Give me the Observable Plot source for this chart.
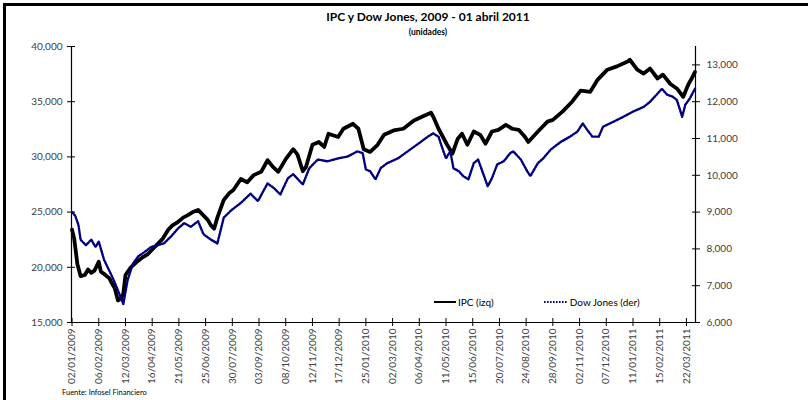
<!DOCTYPE html>
<html><head><meta charset="utf-8">
<script src="https://cdn.jsdelivr.net/npm/d3@7"></script>
<script src="https://cdn.jsdelivr.net/npm/@observablehq/plot@0.6"></script>
<style>
body{margin:0;background:#fff;}
#wrap{position:relative;width:808px;height:400px;overflow:hidden;font-family:Lato,"Open Sans",sans-serif;background:#fff;}
#frame{position:absolute;left:3px;top:3px;right:0;bottom:-10px;border-left:3px solid #000;border-top:3px solid #000;}
#title{position:absolute;top:10px;left:0;width:856px;text-align:center;font-weight:bold;font-size:12px;line-height:14px;color:#000;}
#sub{position:absolute;top:27px;left:0;width:856px;text-align:center;font-weight:bold;font-size:8.5px;line-height:10px;color:#000;}
#chart{position:absolute;left:0;top:0;}
#legend{position:absolute;top:296px;left:434px;font-size:10px;color:#000;display:flex;align-items:center;}
#legend .it{display:flex;align-items:center;margin-right:50px;}
#legend svg{margin-right:2px;}
#caption{position:absolute;top:388px;left:62px;font-size:7.5px;line-height:9px;color:#000;}
</style></head>
<body>
<div id="wrap">
  <div id="frame"></div>
  <div id="chart"></div>
  <div id="title">IPC y Dow Jones, 2009 - 01 abril 2011</div>
  <div id="sub">(unidades)</div>
  <div id="legend">
    <div class="it"><svg width="22" height="6"><line x1="0" x2="22" y1="3" y2="3" stroke="#000" stroke-width="2"/></svg><span>IPC (izq)</span></div>
    <div class="it"><svg width="24" height="6"><line x1="0" x2="24" y1="3" y2="3" stroke="#000080" stroke-width="2" stroke-dasharray="1.6 1.4"/></svg><span>Dow Jones (der)</span></div>
  </div>
  <div id="caption">Fuente: Infosel Financiero</div>
</div>
<script>
// Trading-day index of each sampled point (0 = 02/01/2009, 583 = 01/04/2011)
const ipcIdx = [0,2,5,8,12,15,18,21,25,27,30,35,37,40,43,46,48,50,55,62,66,71,76,80,85,90,94,99,104,108,113,118,122,127,130,133,136,142,147,151,158,164,170,177,183,188,193,200,207,211,216,219,225,231,236,240,249,254,263,268,273,279,286,292,301,310,320,329,336,338,343,348,351,356,361,365,370,376,382,387,393,399,406,412,418,424,427,436,445,450,459,468,476,485,492,501,510,520,522,529,535,541,548,553,560,566,572,577,580,583];
const ipcVal = [23400,22600,20300,19200,19300,19800,19500,19700,20500,19600,19400,19000,18600,18100,17000,17200,17600,19300,20000,20600,20900,21200,21700,22100,22600,23400,23800,24100,24500,24700,25000,25200,24800,24300,23800,23500,24500,26100,26700,27000,28000,27700,28350,28650,29700,29100,28650,29800,30700,30200,28700,29100,31100,31350,30900,32100,31800,32550,33000,32550,30700,30450,31100,32000,32400,32550,33300,33700,34000,33650,32550,31650,31100,30300,31650,32100,31100,32300,32000,31200,32300,32450,32900,32550,32450,31800,31350,32300,33200,33350,34100,35000,36000,35900,37000,37900,38200,38650,38800,37900,37550,38000,37100,37450,36600,36200,35450,36600,37100,37700];
const djIdx = [0,3,6,8,13,18,22,25,30,35,39,44,48,52,57,62,67,74,80,86,93,99,105,111,118,123,130,136,142,149,158,167,174,183,189,195,202,207,216,222,230,239,249,258,267,272,275,279,284,289,295,305,314,326,333,338,343,347,350,354,357,362,366,371,376,380,384,389,393,398,404,410,413,420,426,429,436,441,448,457,466,473,478,482,487,493,497,507,516,525,535,541,548,552,557,562,566,569,571,574,578,583];
const djVal = [9000,8900,8650,8250,8100,8250,8050,8200,7700,7400,7150,6800,6500,7150,7600,7800,7900,8050,8100,8150,8350,8550,8700,8600,8750,8400,8250,8150,8850,9050,9250,9500,9300,9780,9650,9480,9920,10030,9750,10190,10430,10380,10460,10510,10650,10600,10160,10110,9890,10200,10330,10460,10650,10900,11050,11140,11050,10700,10460,10650,10190,10110,9980,9890,10330,10430,10110,9700,9920,10300,10380,10600,10650,10430,10110,9980,10330,10460,10700,10900,11050,11190,11410,11240,11050,11050,11320,11460,11590,11730,11860,12000,12220,12350,12190,12140,12050,11780,11590,11920,12080,12350];

const xTickIdx = [0,25,50,75,100,125,150,175,200,225,250,275,300,325,350,375,400,425,450,475,500,525,550,575];
const xTickLabels = ["02/01/2009","06/02/2009","12/03/2009","16/04/2009","21/05/2009","25/06/2009","30/07/2009","03/09/2009","08/10/2009","12/11/2009","17/12/2009","25/01/2010","02/03/2010","06/04/2010","11/05/2010","15/06/2010","20/07/2010","24/08/2010","28/09/2010","02/11/2010","07/12/2010","11/01/2011","15/02/2011","22/03/2011"];
const leftTicks = [15000,20000,25000,30000,35000,40000];
const rightTicks = [6000,7000,8000,9000,10000,11000,12000,13000];
const leftDomain = [15000, 40000];
const rightDomain = [6000, 13500];
const nDays = 584;

const toLeft = v => leftDomain[0] + (v - rightDomain[0]) * (leftDomain[1]-leftDomain[0])/(rightDomain[1]-rightDomain[0]);
const fromLeft = v => rightDomain[0] + (v - leftDomain[0]) * (rightDomain[1]-rightDomain[0])/(leftDomain[1]-leftDomain[0]);

const ipc = ipcIdx.map((i,k) => ({i, v: ipcVal[k]}));
const dj = djIdx.map((i,k) => ({i, v: toLeft(djVal[k])}));
const fmt = d3.format(",");
const xDomain = [-0.5, nDays - 0.5];

const chart = Plot.plot({
  width: 808, height: 400,
  marginLeft: 71, marginRight: 113, marginTop: 46, marginBottom: 78,
  style: {fontFamily: "Lato, 'Open Sans', sans-serif", fontSize: "10px", color: "#404040", background: "transparent", overflow: "visible"},
  x: {domain: xDomain, axis: null},
  y: {domain: leftDomain, axis: null},
  marks: [
    Plot.ruleX([xDomain[0], xDomain[1]], {stroke: "#000", strokeWidth: 1.2}),
    Plot.ruleY([leftDomain[0]], {stroke: "#000", strokeWidth: 1}),
    Plot.axisY({anchor: "left", ticks: leftTicks, tickSize: 8, dx: 4, tickFormat: () => "", label: null, stroke: "#000"}),
    Plot.axisY({anchor: "left", ticks: leftTicks, tickSize: 0, tickPadding: 9, tickFormat: fmt, label: null, fill: "#404040"}),
    Plot.axisY({anchor: "right", ticks: rightTicks.map(toLeft), tickSize: 8, dx: -4, tickFormat: () => "", label: null, stroke: "#000"}),
    Plot.axisY({anchor: "right", ticks: rightTicks.map(toLeft), tickSize: 0, tickPadding: 11, tickFormat: d => fmt(Math.round(fromLeft(d))), label: null, fill: "#404040"}),
    Plot.axisX({anchor: "bottom", ticks: xTickIdx, tickSize: 8, dy: -4, tickFormat: () => "", label: null, stroke: "#000"}),
    Plot.axisX({anchor: "bottom", ticks: xTickIdx, tickSize: 0, tickPadding: 6, tickRotate: -90, tickFormat: d => xTickLabels[xTickIdx.indexOf(d)], label: null, fill: "#404040"}),
    Plot.line(ipc, {x: "i", y: "v", stroke: "#000", strokeWidth: 3.8, strokeLinejoin: "round", strokeLinecap: "round"}),
    Plot.line(dj, {x: "i", y: "v", stroke: "#000080", strokeWidth: 2.4, strokeDasharray: "1.6 1.4"})
  ]
});
document.getElementById("chart").appendChild(chart);
</script>
</body></html>
